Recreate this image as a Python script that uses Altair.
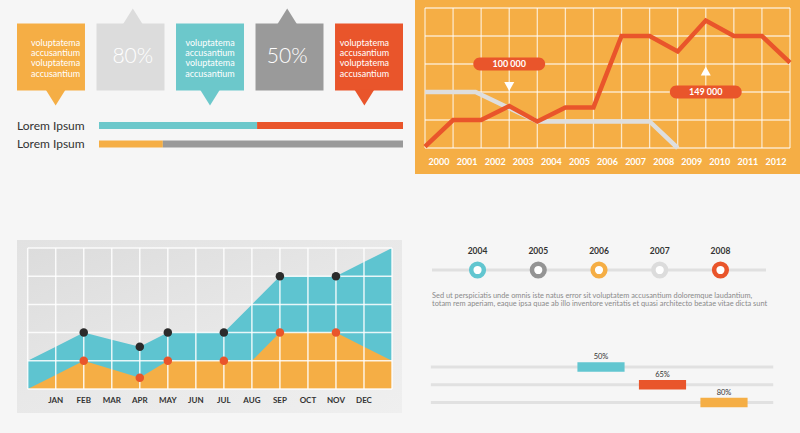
import altair as alt
import pandas as pd

# ---------------- data ----------------
callout_keys = ["c1", "c2", "c3", "c4", "c5"]
callout_colors = ["#f5ae45", "#dcdcdc", "#6cc8cb", "#9a9a9a", "#e9552b"]
callout_tip = ["down", "up", "down", "up", "down"]
callout_big = ["", "80%", "", "50%", ""]
callout_lines = ["voluptatema", "accusantium", "voluptatema", "accusantium"]

progress_labels = ["Lorem Ipsum", "Lorem Ipsum"]
progress_split = [52, 21]
progress_color_a = ["#6cc8cb", "#f5ae45"]
progress_color_b = ["#e9552b", "#9a9a9a"]

years = list(range(2000, 2013))
red_series = [0.05, 1, 1, 1.5, 0.95, 1.45, 1.45, 4, 4, 3.45, 4.55, 4, 4, 3.05]
gray_x = [0, 1.8, 4, 8, 9]
gray_y = [2, 2, 0.95, 0.95, 0]
pill_labels = ["100 000", "149 000"]
pill_x = [3, 10]
pill_y = [3, 2]
arrow_y = [2.2, 2.75]
arrow_dir = ["down", "up"]

months = ["JAN", "FEB", "MAR", "APR", "MAY", "JUN", "JUL", "AUG", "SEP", "OCT", "NOV", "DEC"]
teal_vals = [1, 1.5, 2, 1.75, 1.5, 2, 2, 2, 3, 4, 4, 4, 4.5, 5]
orange_vals = [0, 0.5, 1, 0.7, 0.4, 1, 1, 1, 1, 2, 2, 2, 1.5, 1]
dot_idx = [2, 4, 5, 7, 9, 11]

timeline_years = [2004, 2005, 2006, 2007, 2008]
timeline_colors = ["#62c6d0", "#949494", "#f5ae45", "#dcdcdc", "#e9552b"]
paragraph = [
    "Sed ut perspiciatis unde omnis iste natus error sit voluptatem accusantium doloremque laudantium,",
    "totam rem aperiam, eaque ipsa quae ab illo inventore veritatis et quasi architecto beatae vitae dicta sunt",
]

pct_values = [50, 65, 80]
pct_colors = ["#62c6d0", "#e9552b", "#f5ae45"]

FONT = "Lato"
TEAL = "#5ec4d0"
ORANGE = "#f5ae45"
RED = "#e9552b"


def S(domain, rng):
    return alt.Scale(domain=domain, range=rng, nice=False, zero=False)


def X(f, sc, t="Q"):
    return alt.X(f"{f}:{t}", scale=sc, axis=None)


def Y(f, sc, t="Q"):
    return alt.Y(f"{f}:{t}", scale=sc, axis=None)


one = pd.DataFrame({"a": [0]})
layers = []

# ---------------- callout boxes ----------------
cx = alt.Scale(domain=callout_keys, range=[17, 403], paddingInner=0.145, paddingOuter=0)
cy = S([0, 1], [90.5, 23.5])
cdf = pd.DataFrame({
    "key": callout_keys, "color": callout_colors, "tip": callout_tip, "big": callout_big,
    "b": 0, "t": 1,
})
cdf["ty"] = [0 if d == "down" else 1 for d in callout_tip]
cdf["path"] = ["M-1,-0.1L1,-0.1L0,1.5Z" if d == "down" else "M-1,0.1L1,0.1L0,-1.5Z" for d in callout_tip]
cdf["mid"] = 0.5

layers.append(alt.Chart(cdf).mark_rect().encode(
    x=X("key", cx, "N"), y=Y("b", cy), y2="t",
    fill=alt.Fill("color:N", scale=None)))
layers.append(alt.Chart(cdf).mark_point(filled=True, size=400, opacity=1, strokeWidth=0).encode(
    x=X("key", cx, "N"), y=Y("ty", cy),
    shape=alt.Shape("path:N", scale=None),
    fill=alt.Fill("color:N", scale=None)))

txt_rows = []
for k, b in zip(callout_keys, callout_big):
    if b == "":
        for i, ln in enumerate(callout_lines):
            txt_rows.append({"key": k, "line": i, "text": ln})
tdf = pd.DataFrame(txt_rows)
layers.append(alt.Chart(tdf).mark_text(font=FONT, fontSize=9, color="white", align="center", baseline="middle").encode(
    x=X("key", cx, "N"), y=Y("line", S([0, 3], [42.5, 73.5])), text="text:N"))
layers.append(alt.Chart(cdf[cdf["big"] != ""]).mark_text(font=FONT, fontSize=21, fontWeight=300, color="white",
                                                       align="center", baseline="middle").encode(
    x=X("key", cx, "N"), y=Y("mid", cy), text="big:N"))

# ---------------- progress bars ----------------
px_ = S([0, 100], [99, 403])
py_ = S([1, 2], [125.5, 144])
seg = []
for r, (s, ca, cb) in enumerate(zip(progress_split, progress_color_a, progress_color_b), start=1):
    seg.append({"row": r, "x0": 0, "x1": s, "color": ca})
    seg.append({"row": r, "x0": s, "x1": 100, "color": cb})
segdf = pd.DataFrame(seg)
layers.append(alt.Chart(segdf).mark_rule(strokeWidth=7).encode(
    x=X("x0", px_), x2="x1", y=Y("row", py_), color=alt.Color("color:N", scale=None)))
ldf = pd.DataFrame({"row": [1, 2], "label": progress_labels})
layers.append(alt.Chart(ldf).mark_text(font=FONT, fontSize=12, color="#333333", align="left", baseline="middle").encode(
    x=alt.value(17), y=Y("row", py_), text="label:N"))

# ---------------- top-right line chart ----------------
tx = S([0, 13], [425, 790])
ty = S([0, 5], [148, 8])
layers.append(alt.Chart(one).mark_rect(color=ORANGE).encode(
    x=alt.value(415), x2=alt.value(800), y=alt.value(0), y2=alt.value(174)))
vg = pd.DataFrame({"i": list(range(14)), "y0": 0, "y1": 5})
hg = pd.DataFrame({"j": list(range(6)), "x0": 0, "x1": 13})
layers.append(alt.Chart(vg).mark_rule(color="white", opacity=0.7, strokeWidth=1.3).encode(
    x=X("i", tx), y=Y("y0", ty), y2="y1"))
layers.append(alt.Chart(hg).mark_rule(color="white", opacity=0.7, strokeWidth=1.3).encode(
    y=Y("j", ty), x=X("x0", tx), x2="x1"))
gdf = pd.DataFrame({"x": gray_x, "y": gray_y})
layers.append(alt.Chart(gdf).mark_line(color="#dedede", strokeWidth=4.5).encode(
    x=X("x", tx), y=Y("y", ty)))
rdf = pd.DataFrame({"i": list(range(14)), "v": red_series})
layers.append(alt.Chart(rdf).mark_line(color=RED, strokeWidth=4.5).encode(
    x=X("i", tx), y=Y("v", ty)))
ydf = pd.DataFrame({"pos": [i + 0.5 for i in range(13)], "yy": -0.5, "label": [str(y) for y in years]})
layers.append(alt.Chart(ydf).mark_text(font=FONT, fontSize=9, fontWeight="bold", color="white",
                                       align="center", baseline="middle").encode(
    x=X("pos", tx), y=Y("yy", ty), text="label:N"))
pdf = pd.DataFrame({"px": pill_x, "py": pill_y, "label": pill_labels, "ay": arrow_y})
pdf["x0"] = pdf["px"] - 1.28
pdf["x1"] = pdf["px"] + 1.28
pdf["y0"] = pdf["py"] - 0.23
pdf["y1"] = pdf["py"] + 0.23
pdf["path"] = ["M-1,-0.9L1,-0.9L0,0.9Z" if d == "down" else "M-1,0.9L1,0.9L0,-0.9Z" for d in arrow_dir]
layers.append(alt.Chart(pdf).mark_rect(color=RED, cornerRadius=6.5).encode(
    x=X("x0", tx), x2="x1", y=Y("y0", ty), y2="y1"))
layers.append(alt.Chart(pdf).mark_text(font=FONT, fontSize=9, fontWeight="bold", color="white",
                                       align="center", baseline="middle").encode(
    x=X("px", tx), y=Y("py", ty), text="label:N"))
layers.append(alt.Chart(pdf).mark_point(filled=True, size=100, color="white", opacity=1, strokeWidth=0).encode(
    x=X("px", tx), y=Y("ay", ty), shape=alt.Shape("path:N", scale=None)))

# ---------------- bottom-left area chart ----------------
bx = S([0, 13], [27.7, 392])
by = S([0, 5], [389, 248])
layers.append(alt.Chart(one).mark_rect(fill=alt.Gradient(
    gradient="linear", x1=0, y1=0, x2=1, y2=1,
    stops=[alt.GradientStop(color="#e2e2e2", offset=0), alt.GradientStop(color="#efefef", offset=1)])).encode(
    x=alt.value(17), x2=alt.value(402), y=alt.value(240), y2=alt.value(413)))
adf = pd.DataFrame({"x0": [0], "x1": [13], "y0": [0], "y1": [5]})
layers.append(alt.Chart(adf).mark_rect(fill=alt.Gradient(
    gradient="linear", x1=0, y1=0, x2=1, y2=1,
    stops=[alt.GradientStop(color="#dcdcdc", offset=0), alt.GradientStop(color="#f0f0f0", offset=1)])).encode(
    x=X("x0", bx), x2="x1", y=Y("y0", by), y2="y1"))
ardf = pd.DataFrame({"i": list(range(14)), "teal": teal_vals, "orange": orange_vals})
layers.append(alt.Chart(ardf).mark_area(color=TEAL, opacity=1).encode(x=X("i", bx), y=Y("teal", by)))
layers.append(alt.Chart(ardf).mark_area(color=ORANGE, opacity=1).encode(x=X("i", bx), y=Y("orange", by)))
layers.append(alt.Chart(vg).mark_rule(color="white", opacity=0.85, strokeWidth=1.5).encode(
    x=X("i", bx), y=Y("y0", by), y2="y1"))
layers.append(alt.Chart(hg).mark_rule(color="white", opacity=0.85, strokeWidth=1.5).encode(
    y=Y("j", by), x=X("x0", bx), x2="x1"))
ddf = ardf[ardf["i"].isin(dot_idx)]
layers.append(alt.Chart(ddf).mark_circle(color="#2b2b2b", size=72, opacity=1).encode(x=X("i", bx), y=Y("teal", by)))
layers.append(alt.Chart(ddf).mark_circle(color=RED, size=72, opacity=1).encode(x=X("i", bx), y=Y("orange", by)))
mdf = pd.DataFrame({"i": list(range(1, 13)), "yy": -0.43, "m": months})
layers.append(alt.Chart(mdf).mark_text(font=FONT, fontSize=8, fontWeight="bold", color="#333333",
                                       align="center", baseline="middle").encode(
    x=X("i", bx), y=Y("yy", by), text="m:N"))

# ---------------- timeline ----------------
lx = S([2003.25, 2008.75], [432, 766])
ly = S([0, 1], [270, 251])
layers.append(alt.Chart(pd.DataFrame({"x0": [2003.25], "x1": [2008.75], "y": [0]})).mark_rule(
    color="#e0e0e0", strokeWidth=3).encode(x=X("x0", lx), x2="x1", y=Y("y", ly)))
tldf = pd.DataFrame({"yr": timeline_years, "color": timeline_colors, "y": 0, "ly": 1,
                     "label": [str(y) for y in timeline_years]})
layers.append(alt.Chart(tldf).mark_point(shape="circle", filled=False, fill="white", fillOpacity=1,
                                         strokeWidth=4.5, size=160, opacity=1).encode(
    x=X("yr", lx), y=Y("y", ly), stroke=alt.Stroke("color:N", scale=None)))
layers.append(alt.Chart(tldf).mark_text(font=FONT, fontSize=8.5, fontWeight="bold", color="#333333",
                                        align="center", baseline="middle").encode(
    x=X("yr", lx), y=Y("ly", ly), text="label:N"))
parr = pd.DataFrame({"x": 2003.25, "line": [0, 1], "text": paragraph})
layers.append(alt.Chart(parr).mark_text(font=FONT, fontSize=7.4, color="#8a8a8a", align="left", baseline="middle").encode(
    x=X("x", lx), y=Y("line", S([0, 1], [296, 304])), text="text:N"))

# ---------------- percentage bars ----------------
qx = S([0, 100], [396, 806])
qy = S([1, 3], [367, 402.5])
qdf = pd.DataFrame({"row": [1, 2, 3], "v": pct_values, "color": pct_colors,
                    "label": [f"{v}%" for v in pct_values], "t0": 8.5, "t1": 92})
qdf["b0"] = qdf["v"] - 5.75
qdf["b1"] = qdf["v"] + 5.75
layers.append(alt.Chart(qdf).mark_rule(color="#e1e1e1", strokeWidth=3).encode(
    x=X("t0", qx), x2="t1", y=Y("row", qy)))
layers.append(alt.Chart(qdf).mark_rule(strokeWidth=9.5).encode(
    x=X("b0", qx), x2="b1", y=Y("row", qy), color=alt.Color("color:N", scale=None)))
layers.append(alt.Chart(qdf).mark_text(font=FONT, fontSize=7.5, color="#333333", align="center",
                                       baseline="middle", dy=-10).encode(
    x=X("v", qx), y=Y("row", qy), text="label:N"))

chart = alt.layer(*layers).resolve_scale(x="independent", y="independent").properties(
    width=800, height=433, background="#f6f6f6", padding=0, autosize="none"
).configure_view(stroke=None)

chart.save("out.html", embed_options={"renderer": "svg", "actions": False})
